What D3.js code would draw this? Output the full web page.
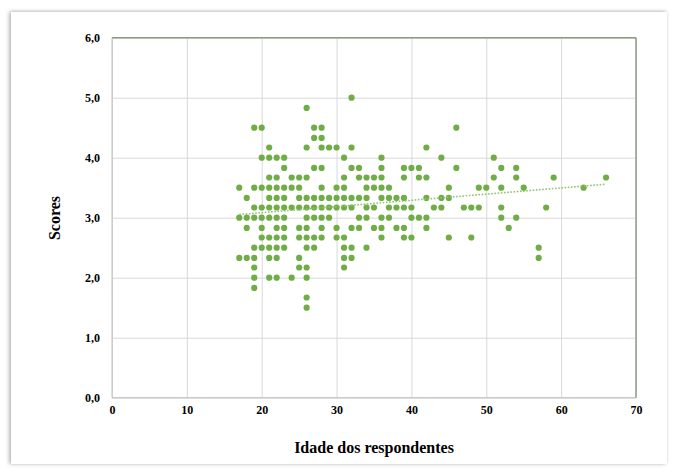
<!DOCTYPE html>
<html>
<head>
<meta charset="utf-8">
<script src="https://cdn.jsdelivr.net/npm/d3@7"></script>
<style>
  html, body { margin: 0; padding: 0; background: #fff; }
  #card {
    position: absolute; left: 11px; top: 12px; width: 656px; height: 452px;
    background: #fff; box-shadow: -2px 0 4px rgba(0,0,0,0.25), 0 -1px 3px rgba(0,0,0,0.12);
  }
  svg { position: absolute; left: 0; top: 0; }
  text { font-family: "Liberation Serif", "Times New Roman", serif; font-weight: bold; fill: #000; }
</style>
</head>
<body>
<div id="card"></div>
<script>
// score levels (scores are means, step of 1/6) and ages of respondents seen at each level
const scoreLevels = [5.0, 4.83, 4.5, 4.33, 4.17, 4.0, 3.83, 3.67, 3.5, 3.33, 3.17, 3.0, 2.83, 2.67, 2.5, 2.33, 2.17, 2.0, 1.83, 1.67, 1.5];
const agesAtLevel = [
    [32],
    [26],
    [19, 20, 27, 28, 46],
    [27, 28],
    [21, 26, 28, 29, 30, 32, 42],
    [20, 21, 22, 23, 31, 36, 44, 51],
    [23, 27, 28, 32, 33, 36, 39, 40, 41, 46, 52, 54],
    [21, 22, 24, 25, 26, 31, 33, 34, 35, 36, 39, 41, 42, 51, 54, 59, 66],
    [17, 19, 20, 21, 22, 23, 24, 25, 28, 30, 31, 34, 35, 36, 37, 45, 49, 50, 52, 55, 63],
    [18, 21, 22, 23, 25, 26, 27, 28, 29, 30, 31, 32, 33, 34, 36, 37, 38, 39, 42, 44, 45],
    [19, 20, 21, 22, 23, 24, 25, 26, 27, 28, 29, 30, 31, 32, 34, 35, 37, 38, 39, 40, 43, 44, 47, 48, 49, 52, 58],
    [17, 18, 19, 20, 21, 22, 23, 26, 27, 28, 29, 33, 34, 36, 37, 40, 41, 42, 52, 54],
    [18, 20, 22, 23, 25, 26, 28, 30, 32, 33, 35, 36, 38, 39, 42, 53],
    [20, 21, 22, 23, 25, 26, 27, 28, 30, 31, 36, 39, 40, 45, 48],
    [19, 20, 21, 22, 23, 26, 27, 31, 32, 34, 57],
    [17, 18, 19, 21, 22, 25, 31, 32, 57],
    [19, 25, 26, 31],
    [19, 21, 22, 24, 26],
    [19],
    [26],
    [26]
];
const xTicks = [0, 10, 20, 30, 40, 50, 60, 70];
const yTicks = [0, 1, 2, 3, 4, 5, 6];
const xTitle = 'Idade dos respondentes';
const yTitle = 'Scores';

var W = 675, H = 473;
var plot = { left: 112, right: 636, top: 37.7, bottom: 397.7 };
var green = '#70ad47';

var svg = d3.select('body').append('svg').attr('width', W).attr('height', H);

var x = d3.scaleLinear().domain([0, 70]).range([plot.left, plot.right]);
var y = d3.scaleLinear().domain([0, 6]).range([plot.bottom, plot.top]);

var points = [];
scoreLevels.forEach(function(s, i) {
    agesAtLevel[i].forEach(function(a) { points.push({ age: a, score: s }); });
});

/* gridlines */
svg.append('g')
    .attr('transform', 'translate(0,' + plot.bottom + ')')
    .call(d3.axisBottom(x).tickValues(xTicks).tickSize(-(plot.bottom - plot.top)).tickFormat(''))
    .call(function(g) {
        g.select('.domain').remove();
        g.selectAll('line').attr('stroke', '#d9d9d9').attr('stroke-width', 1);
    });
svg.append('g')
    .attr('transform', 'translate(' + plot.left + ',0)')
    .call(d3.axisLeft(y).tickValues(yTicks).tickSize(-(plot.right - plot.left)).tickFormat(''))
    .call(function(g) {
        g.select('.domain').remove();
        g.selectAll('line').attr('stroke', '#d9d9d9').attr('stroke-width', 1);
    });

/* plot frame: top and right darker */
svg.append('line').attr('x1', plot.left).attr('x2', plot.right).attr('y1', plot.top).attr('y2', plot.top)
    .attr('stroke', '#8c9c84').attr('stroke-width', 1.5);
svg.append('line').attr('x1', plot.right).attr('x2', plot.right).attr('y1', plot.top).attr('y2', plot.bottom)
    .attr('stroke', '#8c9c84').attr('stroke-width', 1.5);
svg.append('line').attr('x1', plot.left).attr('x2', plot.right).attr('y1', plot.bottom).attr('y2', plot.bottom)
    .attr('stroke', '#bfbfbf').attr('stroke-width', 1);
svg.append('line').attr('x1', plot.left).attr('x2', plot.left).attr('y1', plot.top).attr('y2', plot.bottom)
    .attr('stroke', '#bfbfbf').attr('stroke-width', 1);

/* tick labels */
var xAxis = svg.append('g')
    .attr('transform', 'translate(0,' + plot.bottom + ')')
    .call(d3.axisBottom(x).tickValues(xTicks).tickSize(0).tickPadding(8).tickFormat(d3.format('d')));
xAxis.select('.domain').remove();
xAxis.selectAll('text').attr('font-size', 12).style('font-family', '"Liberation Serif", serif').style('font-weight', 'bold');

var yAxis = svg.append('g')
    .attr('transform', 'translate(' + plot.left + ',0)')
    .call(d3.axisLeft(y).tickValues(yTicks).tickSize(0).tickPadding(12)
        .tickFormat(function(d) { return d3.format('.1f')(d).replace('.', ','); }));
yAxis.select('.domain').remove();
yAxis.selectAll('text').attr('font-size', 12).style('font-family', '"Liberation Serif", serif').style('font-weight', 'bold');

/* axis titles */
svg.append('text').attr('x', 374).attr('y', 453).attr('text-anchor', 'middle')
    .attr('font-size', 16).text(xTitle);
svg.append('text').attr('transform', 'translate(60,218) rotate(-90)').attr('text-anchor', 'middle')
    .attr('font-size', 16).text(yTitle);

/* linear trendline over the data range */
var mx = d3.mean(points, function(d) { return d.age; });
var my = d3.mean(points, function(d) { return d.score; });
var sxy = d3.sum(points, function(d) { return (d.age - mx) * (d.score - my); });
var sxx = d3.sum(points, function(d) { return (d.age - mx) * (d.age - mx); });
var slope = sxy / sxx, icpt = my - slope * mx;
var ext = d3.extent(points, function(d) { return d.age; });
var trend = ext.map(function(a) { return { age: a, score: icpt + slope * a }; });

/* points */
svg.append('g').selectAll('circle')
    .data(points)
    .enter().append('circle')
    .attr('cx', function(d) { return x(d.age); })
    .attr('cy', function(d) { return y(d.score); })
    .attr('r', 3.1)
    .attr('fill', green);

svg.append('path')
    .datum(trend)
    .attr('d', d3.line().x(function(d) { return x(d.age); }).y(function(d) { return y(d.score); }))
    .attr('fill', 'none')
    .attr('stroke', '#8fc46e')
    .attr('stroke-width', 1.6)
    .attr('stroke-dasharray', '1.6,1.6');
</script>
</body>
</html>
